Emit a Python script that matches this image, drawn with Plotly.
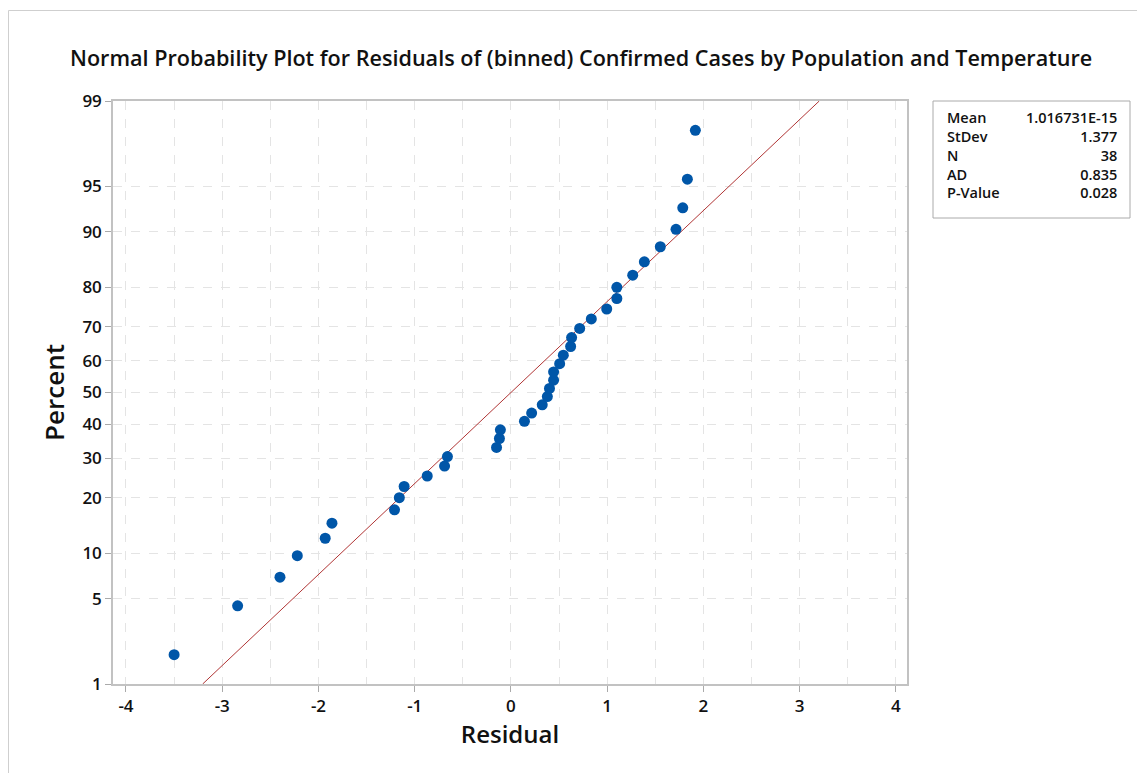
import math
import plotly.graph_objects as go

# ---- data ----
residuals = [-3.50, -2.84, -2.40, -2.22, -1.93, -1.86, -1.21, -1.16, -1.11, -0.87,
             -0.69, -0.66, -0.15, -0.12, -0.11, 0.14, 0.215, 0.325, 0.378, 0.40,
             0.443, 0.443, 0.506, 0.544, 0.62, 0.63, 0.714, 0.835, 0.995, 1.10,
             1.10, 1.265, 1.386, 1.552, 1.715, 1.785, 1.833, 1.916]
percents = [1.82, 4.43, 7.03, 9.64, 12.24, 14.84, 17.45, 20.05, 22.66, 25.26,
            27.86, 30.47, 33.07, 35.68, 38.28, 40.89, 43.49, 46.09, 48.70, 51.30,
            53.91, 56.51, 59.11, 61.72, 64.32, 66.93, 69.53, 72.14, 74.74, 77.34,
            79.95, 82.55, 85.16, 87.76, 90.36, 92.97, 95.57, 98.18]
pct_ticks = [1, 5, 10, 20, 30, 40, 50, 60, 70, 80, 90, 95, 99]
x_ticks = [-4, -3, -2, -1, 0, 1, 2, 3, 4]
MEAN = 1.016731e-15
STDEV = 1.377
stat_labels = ["Mean", "StDev", "N", "AD", "P-Value"]
stat_values = ["1.016731E-15", "1.377", "38", "0.835", "0.028"]
title = "Normal Probability Plot for Residuals of (binned) Confirmed Cases by Population and Temperature"


def norm_ppf(p):
    lo, hi = -10.0, 10.0
    for _ in range(100):
        mid = (lo + hi) / 2
        if 0.5 * (1 + math.erf(mid / math.sqrt(2))) < p:
            lo = mid
        else:
            hi = mid
    return (lo + hi) / 2


z_pts = [norm_ppf(p / 100) for p in percents]
z_ticks = [norm_ppf(p / 100) for p in pct_ticks]
z_lo, z_hi = z_ticks[0], z_ticks[-1]

OFF = 8  # page body margin
W, H = 1145 - OFF, 773 - OFF
# plot area in page pixels
L, R, T, B = 113, 907, 101, 684
pw, ph = R - L, B - T


def px(x):
    return (x - L) / pw


def py(y):
    return (B - y) / ph


FONT = "Open Sans, Noto Sans, sans-serif"
fig = go.Figure()
fig.add_trace(go.Scatter(
    x=[MEAN + STDEV * z_lo, MEAN + STDEV * z_hi], y=[z_lo, z_hi],
    mode="lines", line=dict(color="#b03535", width=1), hoverinfo="skip",
    showlegend=False))
fig.add_trace(go.Scatter(
    x=residuals, y=z_pts, mode="markers",
    marker=dict(color="#0056a8", size=11, line=dict(width=0)),
    showlegend=False))

axis_font = dict(family=FONT, size=17, color="#111", weight=600)
grid = dict(showgrid=True, gridcolor="#e4e4e4", griddash="dash", gridwidth=1)
fig.update_xaxes(
    range=[-4.135, 4.115], tickvals=x_ticks, ticktext=[str(v) for v in x_ticks],
    ticks="outside", ticklen=6, tickcolor="#aaa", tickfont=axis_font,
    showline=True, linecolor="#c2c2c2", linewidth=1.5, mirror=True,
    minor=dict(dtick=0.5, tick0=0, showgrid=True, gridcolor="#e4e4e4",
               griddash="dash", ticklen=0),
    zeroline=False,
    title=dict(text="Residual", font=dict(family=FONT, size=24, color="#111", weight=600),
               standoff=8),
    **grid)
fig.update_yaxes(
    range=[z_lo, z_hi], tickvals=z_ticks, ticktext=[str(v) for v in pct_ticks],
    ticks="outside", ticklen=6, tickcolor="#aaa", tickfont=axis_font,
    showline=True, linecolor="#c2c2c2", linewidth=1.5, mirror=True,
    zeroline=False,
    title=dict(text="Percent", font=dict(family=FONT, size=26, color="#111", weight=600),
               standoff=10),
    **grid)

stat_font = dict(family=FONT, size=14.5, color="#111", weight=600)
annotations = [
    dict(text=title, xref="paper", yref="paper", x=px(581), y=py(58),
         xanchor="center", yanchor="middle", showarrow=False,
         font=dict(family=FONT, size=21.6, color="#111", weight=600)),
    dict(text="<br>".join(stat_labels), xref="paper", yref="paper", x=px(945), y=py(106),
         xanchor="left", yanchor="top", align="left", showarrow=False, font=stat_font),
    dict(text="<br>".join(stat_values), xref="paper", yref="paper", x=px(1119), y=py(106),
         xanchor="right", yanchor="top", align="right", showarrow=False, font=stat_font),
]

shapes = [
    dict(type="rect", xref="paper", yref="paper", x0=px(933), x1=px(1130), y0=py(218), y1=py(101),
         line=dict(color="#aaaaaa", width=1), fillcolor="white", layer="below"),
    dict(type="rect", xref="paper", yref="paper", x0=px(8.5), x1=px(1160), y0=py(790), y1=py(10.5),
         line=dict(color="#cfcfcf", width=1), layer="below"),
]

fig.update_layout(
    width=W, height=H,
    margin=dict(l=L - OFF, r=W + OFF - R, t=T - OFF, b=H + OFF - B),
    paper_bgcolor="white", plot_bgcolor="white",
    annotations=annotations, shapes=shapes, showlegend=False)

fig.write_html("out.html")
